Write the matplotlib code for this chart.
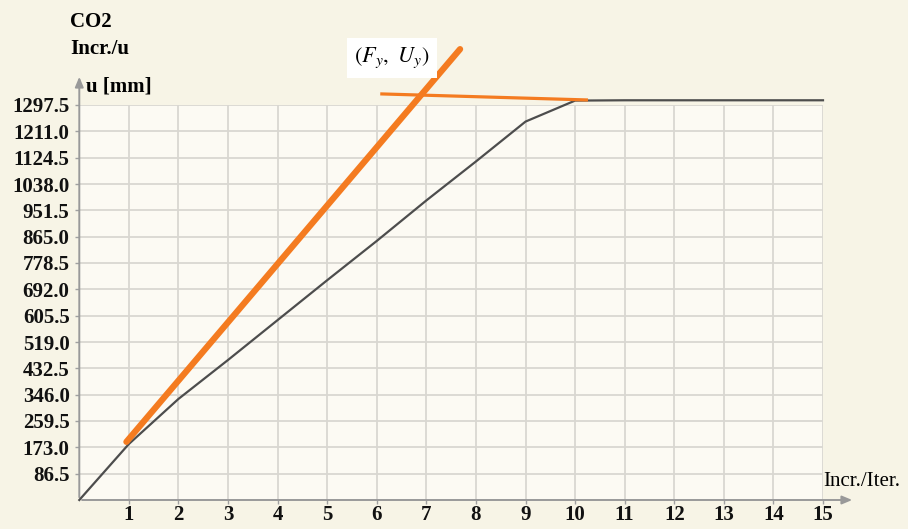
import matplotlib
matplotlib.use("Agg")
import matplotlib.pyplot as plt
import numpy as np

# Data
incr = [0, 1, 2, 3, 4, 5, 6, 7, 8, 9, 10, 11, 12, 13, 14, 15]
u_mm = [0, 184, 332, 460, 591, 722, 851, 984, 1112, 1243, 1312, 1313, 1313, 1313, 1313, 1313]
elastic_x = [0.95, 7.68]
elastic_y = [191, 1481]
plastic_x = [6.07, 10.26]
plastic_y = [1334, 1314]
x_ticks = list(range(1, 16))
y_ticks = [86.5, 173.0, 259.5, 346.0, 432.5, 519.0, 605.5, 692.0, 778.5, 865.0, 951.5, 1038.0, 1124.5, 1211.0, 1297.5]

W, H = 908, 529
fig = plt.figure(figsize=(W / 100, H / 100), dpi=100)
fig.patch.set_facecolor("#f7f4e6")

x0, x1 = 79.3, 823.0
y0, y1 = 500.0, 105.0
ax = fig.add_axes([x0 / W, (H - y0) / H, (x1 - x0) / W, (y0 - y1) / H])
ax.set_facecolor("#fcfaf3")
ax.set_xlim(0, 15)
ax.set_ylim(0, 1297.5)

serif = "Liberation Serif"
fs = 15

ax.set_xticks(x_ticks)
ax.set_yticks(y_ticks)
ax.set_xticklabels([str(t) for t in x_ticks], fontfamily=serif, fontsize=fs, fontweight="bold")
ax.set_yticklabels([f"{t:.1f}" for t in y_ticks], fontfamily=serif, fontsize=fs, fontweight="bold")
ax.tick_params(axis="both", length=3, width=1, color="#a0a0a0", labelcolor="#111111")
ax.tick_params(axis="x", pad=0.5)
ax.tick_params(axis="y", pad=4)
ax.grid(True, color="#d9d7d1", lw=1.3)
ax.set_axisbelow(True)
for s in ["top", "right", "left", "bottom"]:
    ax.spines[s].set_visible(False)

# axis arrows
ax.annotate("", xy=(855 / W, (H - 500) / H), xytext=(x0 / W, (H - 500) / H),
            xycoords="figure fraction", textcoords="figure fraction",
            arrowprops=dict(arrowstyle="-|>,head_length=0.6,head_width=0.25", color="#999999", lw=1.4))
ax.annotate("", xy=(x0 / W, (H - 74) / H), xytext=(x0 / W, (H - 500) / H),
            xycoords="figure fraction", textcoords="figure fraction",
            arrowprops=dict(arrowstyle="-|>,head_length=0.6,head_width=0.25", color="#999999", lw=1.4))

# curves
ax.plot(incr, u_mm, color="#4d4d4d", lw=1.6, clip_on=False, zorder=3)
ax.plot(elastic_x, elastic_y, color="#f47b20", lw=4.5, solid_capstyle="round", clip_on=False, zorder=4)
ax.plot(plastic_x, plastic_y, color="#f47b20", lw=2.3, solid_capstyle="butt", clip_on=False, zorder=4)

# texts
fig.text(70 / W, (H - 22) / H, "CO2", fontfamily=serif, fontsize=fs, fontweight="bold", va="center", ha="left")
fig.text(70 / W, (H - 49) / H, "Incr./u", fontfamily=serif, fontsize=fs, fontweight="bold", va="center", ha="left")
fig.text(86 / W, (H - 87) / H, "u [mm]", fontfamily=serif, fontsize=fs, fontweight="bold", va="center", ha="left")
fig.text(900 / W, (H - 482) / H, "Incr./Iter.", fontfamily=serif, fontsize=fs, va="center", ha="right")

plt.rcParams["mathtext.fontset"] = "stix"
fig.text(392 / W, (H - 58) / H, r"$(F_y,\ U_y)$", fontsize=16, va="center", ha="center",
         bbox=dict(boxstyle="square,pad=0.35", fc="white", ec="none"))

fig.savefig("out.png", dpi=100, facecolor=fig.get_facecolor())
